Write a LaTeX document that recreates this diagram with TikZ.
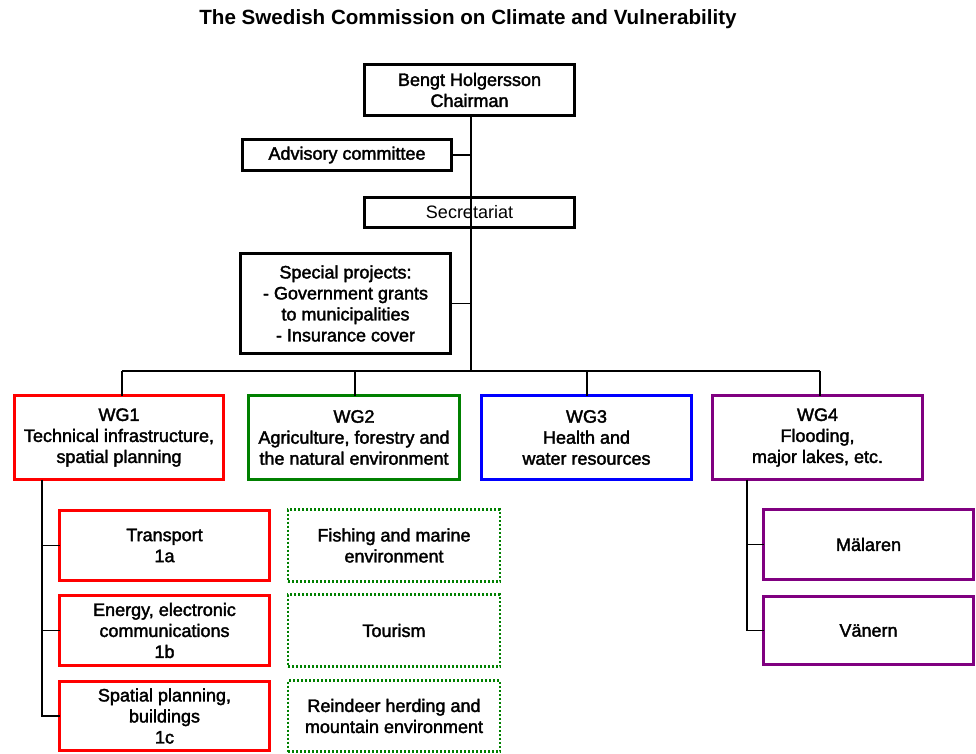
\documentclass[tikz,border=0pt]{standalone}
\usepackage{fontspec}
\setmainfont{Liberation Sans}
\newfontfamily\heavyfont[FakeBold=2]{Liberation Sans}
\newfontfamily\plainfont{Liberation Sans}
\definecolor{wgred}{RGB}{255,0,0}
\definecolor{wggreen}{RGB}{0,128,0}
\definecolor{wgblue}{RGB}{0,0,255}
\definecolor{wgpurple}{RGB}{128,0,128}
\begin{document}
\begin{tikzpicture}[x=1pt,y=-1pt,
  orgbox/.style={draw, inner sep=0pt, outer sep=0pt, align=center,
    font=\heavyfont\fontsize{18}{21}\selectfont, fill=white},
  conn/.style={draw=black, line width=1.3pt},
  dotbox/.style={orgbox, draw=wggreen, line width=2.4pt, dash pattern=on 2pt off 2pt}
]
\useasboundingbox (0,0) rectangle (976,753);
\node[font=\bfseries\fontsize{20.6}{24}\selectfont] (title) at (468,19) {The Swedish Commission on Climate and Vulnerability};

\node[orgbox, line width=3.5pt, minimum width=210pt, minimum height=51pt] (chair) at (469.5,90) {Bengt Holgersson\\Chairman};
\node[orgbox, line width=3pt, minimum width=209pt, minimum height=31pt] (adv) at (347,155) {Advisory committee};
\node[orgbox, line width=2.5pt, minimum width=210pt, minimum height=30pt, font=\plainfont\fontsize{18}{21}\selectfont] (sec) at (469.5,212.5) {Secretariat};
\node[orgbox, line width=3.5pt, minimum width=210pt, minimum height=100pt] (spec) at (345.5,303.5) {Special projects:\\- Government grants\\to municipalities\\- Insurance cover};

\coordinate (bar) at (471,371);
\draw[conn] (chair.south -| bar) -- (bar);
\draw[conn] (adv.east) -- (adv.east -| bar);
\draw[conn] (spec.east) -- (spec.east -| bar);

\node[orgbox, draw=wgred, line width=3pt, minimum width=209pt, minimum height=84pt] (wg1) at (119,437.5) {WG1\\Technical infrastructure,\\spatial planning};
\node[orgbox, draw=wggreen, line width=3pt, minimum width=211pt, minimum height=84pt] (wg2) at (354,437.5) {WG2\\Agriculture, forestry and\\the natural environment};
\node[orgbox, draw=wgblue, line width=3pt, minimum width=210pt, minimum height=84pt] (wg3) at (586.5,437.5) {WG3\\Health and\\water resources};
\node[orgbox, draw=wgpurple, line width=3pt, minimum width=210pt, minimum height=84pt] (wg4) at (817.5,437.5) {WG4\\Flooding,\\major lakes, etc.};

\coordinate (d1) at (122,371);
\coordinate (d2) at (355,371);
\coordinate (d3) at (587,371);
\coordinate (d4) at (820,371);
\draw[conn] (d1) -- (d4);
\draw[conn] (d1) -- (d1 |- wg1.north);
\draw[conn] (d2) -- (d2 |- wg2.north);
\draw[conn] (d3) -- (d3 |- wg3.north);
\draw[conn] (d4) -- (d4 |- wg4.north);

\node[orgbox, draw=wgred, line width=2.5pt, minimum width=210pt, minimum height=70pt] (s1a) at (164.5,545.5) {Transport\\1a};
\node[orgbox, draw=wgred, line width=2.5pt, minimum width=210pt, minimum height=70pt] (s1b) at (164.5,630.5) {Energy, electronic\\communications\\1b};
\node[orgbox, draw=wgred, line width=2.5pt, minimum width=210pt, minimum height=69pt] (s1c) at (164.5,716) {Spatial planning,\\buildings\\1c};

\node[dotbox, minimum width=212pt, minimum height=72pt] (g1) at (394,545.5) {Fishing and marine\\environment};
\node[dotbox, minimum width=212pt, minimum height=72pt] (g2) at (394,630.5) {Tourism};
\node[dotbox, minimum width=212pt, minimum height=71pt] (g3) at (394,716) {Reindeer herding and\\mountain environment};

\node[orgbox, draw=wgpurple, line width=2.5pt, minimum width=210pt, minimum height=70pt] (mal) at (868.5,544.5) {Mälaren};
\node[orgbox, draw=wgpurple, line width=2.5pt, minimum width=210pt, minimum height=68pt] (van) at (868.5,630.5) {Vänern};

\coordinate (t1) at (42,0);
\draw[conn] (t1 |- wg1.south) -- (t1 |- s1c.west) -- (s1c.west);
\draw[conn] (t1 |- s1a.west) -- (s1a.west);
\draw[conn] (t1 |- s1b.west) -- (s1b.west);

\coordinate (t4) at (747,0);
\draw[conn] (t4 |- wg4.south) -- (t4 |- van.west) -- (van.west);
\draw[conn] (t4 |- mal.west) -- (mal.west);
\end{tikzpicture}
\end{document}
